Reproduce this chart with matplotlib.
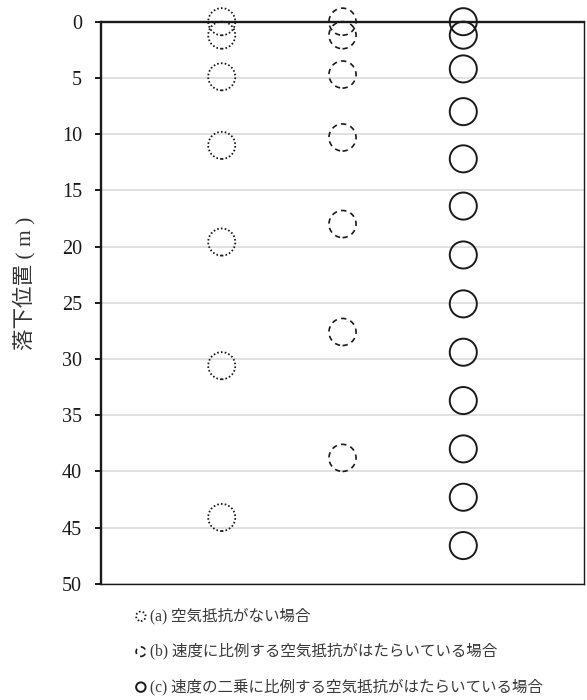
import matplotlib
matplotlib.use("Agg")
import matplotlib.pyplot as plt

SERIF = ['Liberation Serif', 'DejaVu Serif']
MIX = ['Liberation Serif', 'Noto Sans CJK JP', 'DejaVu Sans']
plt.rcParams['font.family'] = MIX

# Data: drop positions (m)
pos_a = [0, 1.2, 4.9, 11.0, 19.6, 30.6, 44.1]
pos_b = [0, 1.2, 4.7, 10.3, 18.0, 27.6, 38.8]
pos_c = [0, 1.2, 4.2, 8.0, 12.2, 16.4, 20.75, 25.1, 29.4, 33.7, 38.0, 42.3, 46.6]
columns = [1, 2, 3]
labels = ["(a) 空気抵抗がない場合",
          "(b) 速度に比例する空気抵抗がはたらいている場合",
          "(c) 速度の二乗に比例する空気抵抗がはたらいている場合"]
yticks = [0, 5, 10, 15, 20, 25, 30, 35, 40, 45, 50]

fig = plt.figure(figsize=(5.87, 7.0), dpi=100)
ax = fig.add_axes([0.172, 0.166, 0.823, 0.803])

styles = [dict(linestyles=[(0, (0.9, 1.2))], linewidths=1.3),
          dict(linestyles=[(0, (3.2, 2.6))], linewidths=1.2),
          dict(linestyles='solid', linewidths=1.4)]
handles = []
for col, data, st, lab in zip(columns, [pos_a, pos_b, pos_c], styles, labels):
    h = ax.scatter([col] * len(data), data, s=380, facecolors='none',
                   edgecolors='#1a1a1a', clip_on=False, zorder=3, label=lab, **st)
    handles.append(h)

ax.set_xlim(0, 4)
ax.set_ylim(50, 0)
ax.set_yticks(yticks)
ax.set_xticks([])
ax.grid(axis='y', color='#d9d9d9', linewidth=1.1)
ax.set_axisbelow(True)
for s in ['left', 'top']:
    ax.spines[s].set_linewidth(1.7)
for s in ['right', 'bottom']:
    ax.spines[s].set_linewidth(1.0)
for s in ax.spines.values():
    s.set_color('#1a1a1a')
ax.tick_params(axis='y', direction='out', length=4.5, width=1.4, pad=9,
               labelsize=14.5, colors='#1a1a1a')
for t in ax.get_yticklabels():
    t.set_family(SERIF)
ax.set_ylabel("落下位置 ( m )", family=MIX, fontsize=15.5, color='#333333')
ax.yaxis.set_label_coords(-0.135, 0.535)

leg = fig.legend(handles=handles, labels=labels, loc='upper left',
                 bbox_to_anchor=(0.232, 0.132), frameon=False,
                 prop={'family': MIX, 'size': 11.2},
                 handlelength=0.6, handletextpad=0.3, labelspacing=1.2,
                 borderpad=0, borderaxespad=0, scatterpoints=1,
                 markerscale=0.35)
for t in leg.get_texts():
    t.set_color('#3a3a3a')

fig.savefig("out.png", dpi=100)
